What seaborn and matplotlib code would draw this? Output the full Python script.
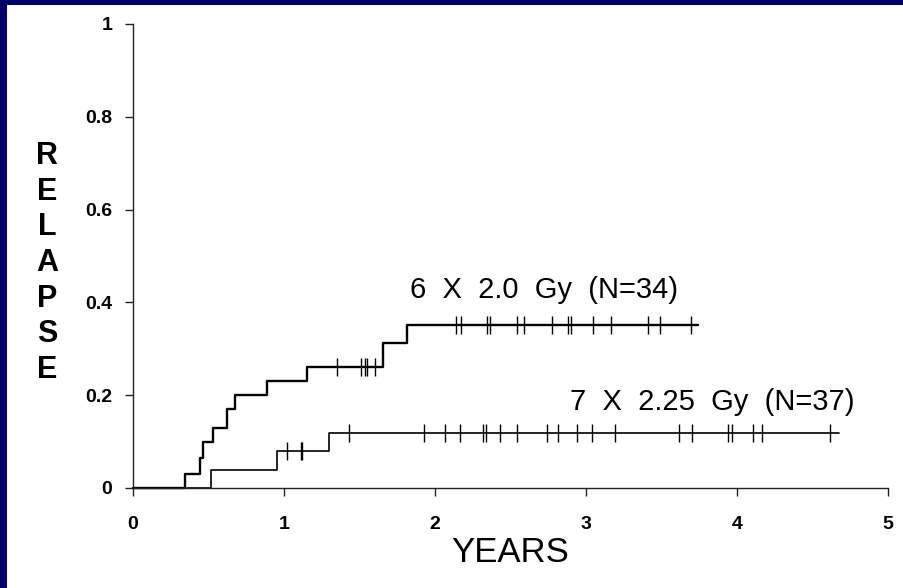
import numpy as np
import pandas as pd
import matplotlib
matplotlib.use("Agg")
import matplotlib.pyplot as plt
from matplotlib.patches import Rectangle
import seaborn as sns

# Cumulative relapse, 6 x 2.0 Gy arm (N=34): step times (years) and levels
years_a = [0.0, 0.344, 0.444, 0.461, 0.527, 0.625, 0.675, 0.889, 1.154, 1.653, 1.817, 3.744]
relapse_a = [0.0, 0.030, 0.065, 0.100, 0.130, 0.170, 0.200, 0.231, 0.261, 0.312, 0.351, 0.351]
censored_a = [1.349, 1.508, 1.536, 1.547, 1.603, 2.139, 2.172, 2.347, 2.364, 2.545, 2.589,
              2.773, 2.883, 2.898, 3.044, 3.163, 3.413, 3.490, 3.695]

# Cumulative relapse, 7 x 2.25 Gy arm (N=37)
years_b = [0.0, 0.514, 0.951, 1.295, 4.677]
relapse_b = [0.0, 0.038, 0.080, 0.119, 0.119]
censored_b = [1.022, 1.113, 1.120, 1.433, 1.927, 2.066, 2.166, 2.320, 2.338, 2.430, 2.545,
              2.739, 2.817, 2.938, 3.037, 3.192, 3.618, 3.700, 3.943, 3.964, 4.108, 4.163, 4.616]

label_a = "6  X  2.0  Gy  (N=34)"
label_b = "7  X  2.25  Gy  (N=37)"
x_ticks = [0, 1, 2, 3, 4, 5]
x_ticklabels = ["0", "1", "2", "3", "4", "5"]
y_ticks = [0, 0.2, 0.4, 0.6, 0.8, 1.0]
y_ticklabels = ["0", "0.2", "0.4", "0.6", "0.8", "1"]

sns.set_theme(style="white")
plt.rcParams["font.family"] = ["Liberation Sans", "DejaVu Sans"]

W, H = 904, 588
fig = plt.figure(figsize=(W / 100, H / 100), dpi=100, facecolor="white")

# navy slide frame along the top and left edges
navy = "#000066"
fig.patches.append(Rectangle((0, 0), 7 / W, 1, transform=fig.transFigure,
                             facecolor=navy, edgecolor="none", zorder=0))
fig.patches.append(Rectangle((0, 1 - 5 / H), 1, 5 / H, transform=fig.transFigure,
                             facecolor=navy, edgecolor="none", zorder=0))

ax = fig.add_axes([133 / W, 1 - 488 / H, 755 / W, 464 / H])
ax.set_facecolor("white")


def step_value(times, levels, t):
    idx = np.searchsorted(times, t, side="right") - 1
    return np.asarray(levels)[idx]


curves = [
    (years_a, relapse_a, censored_a, 1.7),
    (years_b, relapse_b, censored_b, 1.2),
]
for times, levels, cens, lw in curves:
    df = pd.DataFrame({"years": times, "relapse": levels})
    sns.lineplot(data=df, x="years", y="relapse", drawstyle="steps-post",
                 color="black", linewidth=lw, ax=ax, clip_on=False,
                 estimator=None, sort=False)
    cdf = pd.DataFrame({"years": cens, "relapse": step_value(times, levels, cens)})
    sns.scatterplot(data=cdf, x="years", y="relapse", marker="|", s=150,
                    color="black", linewidth=1.0, ax=ax, clip_on=False)

ax.set_xlim(0, 5)
ax.set_ylim(0, 1)
ax.set_xticks(x_ticks)
ax.set_xticklabels(x_ticklabels)
ax.set_yticks(y_ticks)
ax.set_yticklabels(y_ticklabels)
for side in ("top", "right"):
    ax.spines[side].set_visible(False)
for side in ("left", "bottom"):
    ax.spines[side].set_color("#222222")
    ax.spines[side].set_linewidth(1.0)
ax.tick_params(axis="both", which="major", bottom=True, left=True, direction="out",
               length=6, width=1.0, color="#222222", labelsize=14, labelcolor="black")
ax.tick_params(axis="y", pad=9)
ax.tick_params(axis="x", pad=14)
for lab in ax.get_xticklabels() + ax.get_yticklabels():
    lab.set_fontweight("bold")
ax.set_xlabel("")
ax.set_ylabel("")

ax.text(2.719, 0.409, label_a, ha="center", va="baseline", fontsize=21, color="black")
ax.text(3.834, 0.168, label_b, ha="center", va="baseline", fontsize=21, color="black")

fig.text(510 / W, 1 - 552 / H, "YEARS", ha="center", va="center", fontsize=25,
         color="black")
fig.text(47 / W, 1 - 263 / H, "\n".join("RELAPSE"), ha="center", va="center",
         fontsize=22, fontweight="bold", color="black", linespacing=1.24)

fig.savefig("out.png", dpi=100, facecolor="white")
